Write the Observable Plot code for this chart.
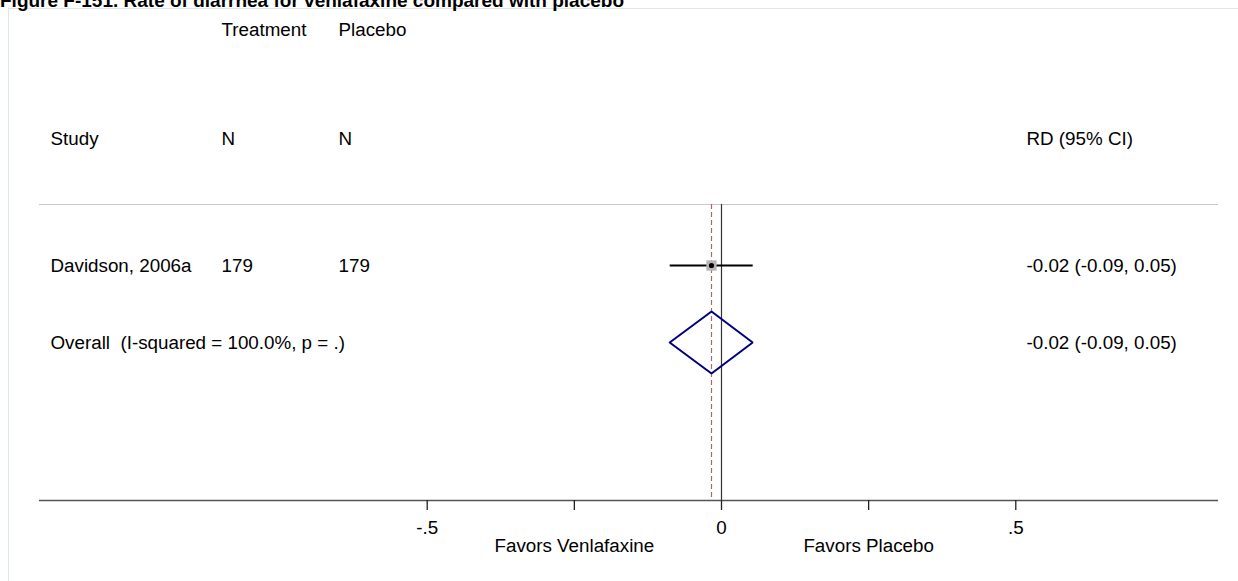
<!DOCTYPE html>
<html><head><meta charset="utf-8">
<script src="https://cdn.jsdelivr.net/npm/d3@7"></script>
<script src="https://cdn.jsdelivr.net/npm/@observablehq/plot@0.6"></script>
<style>
body{margin:0;background:#fff;font-family:"Liberation Sans",Arial,sans-serif;}
#wrap{position:relative;width:1238px;height:581px;overflow:hidden;}
#title{position:absolute;left:0;top:-10px;font-weight:bold;font-size:19px;white-space:nowrap;line-height:normal;color:#000;}
#frame{position:absolute;left:8px;top:8px;width:1300px;height:700px;border-left:1px solid #dde6ea;border-top:1px solid #dde6ea;}
#chart{position:absolute;left:0;top:0;}
</style></head>
<body>
<div id="wrap"><div id="frame"></div><div id="chart"></div><div id="title">Figure F-151. Rate of diarrhea for venlafaxine compared with placebo</div></div>
<script>
// ---- data ----
const studies = ["Davidson, 2006a"];
const treatmentN = [179];
const placeboN = [179];
const estimates = [-0.017];
const lowerCI = [-0.088];
const upperCI = [0.053];
const ciLabels = ["-0.02 (-0.09, 0.05)"];
const overallLabel = "Overall\u00a0 (I-squared = 100.0%, p = .)";
const overallEstimate = -0.017;
const overallLower = -0.088;
const overallUpper = 0.053;
const overallCILabel = "-0.02 (-0.09, 0.05)";
const xTicks = [-0.5, -0.25, 0, 0.25, 0.5];
const xTickLabels = ["-.5", "", "0", "", ".5"];
const favorLabels = ["Favors Venlafaxine", "Favors Placebo"];
const favorPositions = [-0.25, 0.25];
const groupHeaders = ["Treatment", "Placebo"];
const columnHeaders = ["Study", "N", "N", "RD (95% CI)"];

// ---- layout (column anchors in x units, rows in row units) ----
const xDomain = [-1.1587, 0.8444];
const colStudy = -1.1400, colTreatN = -0.8495, colPlaceboN = -0.6507, colRD = 0.5182;
const groupHeaderX = [colTreatN, colPlaceboN];
const columnHeaderX = [colStudy, colTreatN, colPlaceboN, colRD];
const rowGroupHeader = -2.065, rowColumnHeader = -0.649, rowSeparator = 0.208, rowAxis = 4.0519;
const yDomain = [-2.4416, rowAxis];
const studyRows = studies.map((_, i) => i + 1);
const overallRow = studies.length + 1;
const diamondHalf = 0.4026;

const studyData = studies.map((s, i) => ({
  study: s, tn: treatmentN[i], pn: placeboN[i], est: estimates[i],
  lo: lowerCI[i], hi: upperCI[i], label: ciLabels[i], row: studyRows[i]
}));
const diamond = [
  {x: overallLower, y: overallRow},
  {x: overallEstimate, y: overallRow - diamondHalf},
  {x: overallUpper, y: overallRow},
  {x: overallEstimate, y: overallRow + diamondHalf},
  {x: overallLower, y: overallRow}
];
const groupHeaderData = groupHeaders.map((t, i) => ({t, x: groupHeaderX[i]}));
const columnHeaderData = columnHeaders.map((t, i) => ({t, x: columnHeaderX[i]}));
const favorData = favorLabels.map((t, i) => ({t, x: favorPositions[i]}));

const fs = 18.8;
const chart = Plot.plot({
  width: 1238, height: 581,
  marginLeft: 39, marginRight: 20, marginTop: 0, marginBottom: 81,
  style: {fontFamily: "'Liberation Sans', Arial, sans-serif", fontSize: fs + "px", color: "#000", background: "transparent"},
  x: {domain: xDomain},
  y: {domain: yDomain, reverse: true, axis: null},
  marks: [
    Plot.ruleY([rowSeparator], {x1: xDomain[0], x2: xDomain[1], stroke: "#c8c8c8", strokeWidth: 1}),
    Plot.ruleX([0], {y1: rowSeparator, y2: rowAxis, stroke: "#333", strokeWidth: 1.2}),
    Plot.ruleX([overallEstimate], {y1: rowSeparator, y2: rowAxis, stroke: "#b0676b", strokeWidth: 1.2, strokeDasharray: "5,3"}),
    Plot.link(studyData, {x1: "lo", x2: "hi", y1: "row", y2: "row", stroke: "#000", strokeWidth: 2}),
    Plot.dot(studyData, {x: "est", y: "row", symbol: "square", r: 5.8, fill: "#b5b5b5", stroke: "none"}),
    Plot.dot(studyData, {x: "est", y: "row", r: 2.6, fill: "#000", stroke: "none"}),
    Plot.line(diamond, {x: "x", y: "y", stroke: "#000080", strokeWidth: 2, strokeLinejoin: "miter"}),
    Plot.text(groupHeaderData, {x: "x", y: () => rowGroupHeader, text: "t", textAnchor: "start", fontSize: fs}),
    Plot.text(columnHeaderData, {x: "x", y: () => rowColumnHeader, text: "t", textAnchor: "start", fontSize: fs}),
    Plot.text(studyData, {x: () => colStudy, y: "row", text: "study", textAnchor: "start", fontSize: fs}),
    Plot.text(studyData, {x: () => colTreatN, y: "row", text: d => String(d.tn), textAnchor: "start", fontSize: fs}),
    Plot.text(studyData, {x: () => colPlaceboN, y: "row", text: d => String(d.pn), textAnchor: "start", fontSize: fs}),
    Plot.text(studyData, {x: () => colRD, y: "row", text: "label", textAnchor: "start", fontSize: fs}),
    Plot.text([overallLabel], {x: () => colStudy, y: () => overallRow, text: d => d, textAnchor: "start", fontSize: fs}),
    Plot.text([overallCILabel], {x: () => colRD, y: () => overallRow, text: d => d, textAnchor: "start", fontSize: fs}),
    Plot.ruleY([rowAxis], {x1: xDomain[0], x2: xDomain[1], stroke: "#555", strokeWidth: 1.6}),
    Plot.axisX(xTicks, {tickSize: 10, tickPadding: 10, tickFormat: (d) => xTickLabels[xTicks.indexOf(d)], stroke: "#222", strokeWidth: 1.3, fontSize: fs}),
    Plot.text(favorData, {x: "x", frameAnchor: "bottom", dy: 51, text: "t", textAnchor: "middle", fontSize: fs})
  ]
});
document.getElementById("chart").appendChild(chart);
</script>
</body></html>
